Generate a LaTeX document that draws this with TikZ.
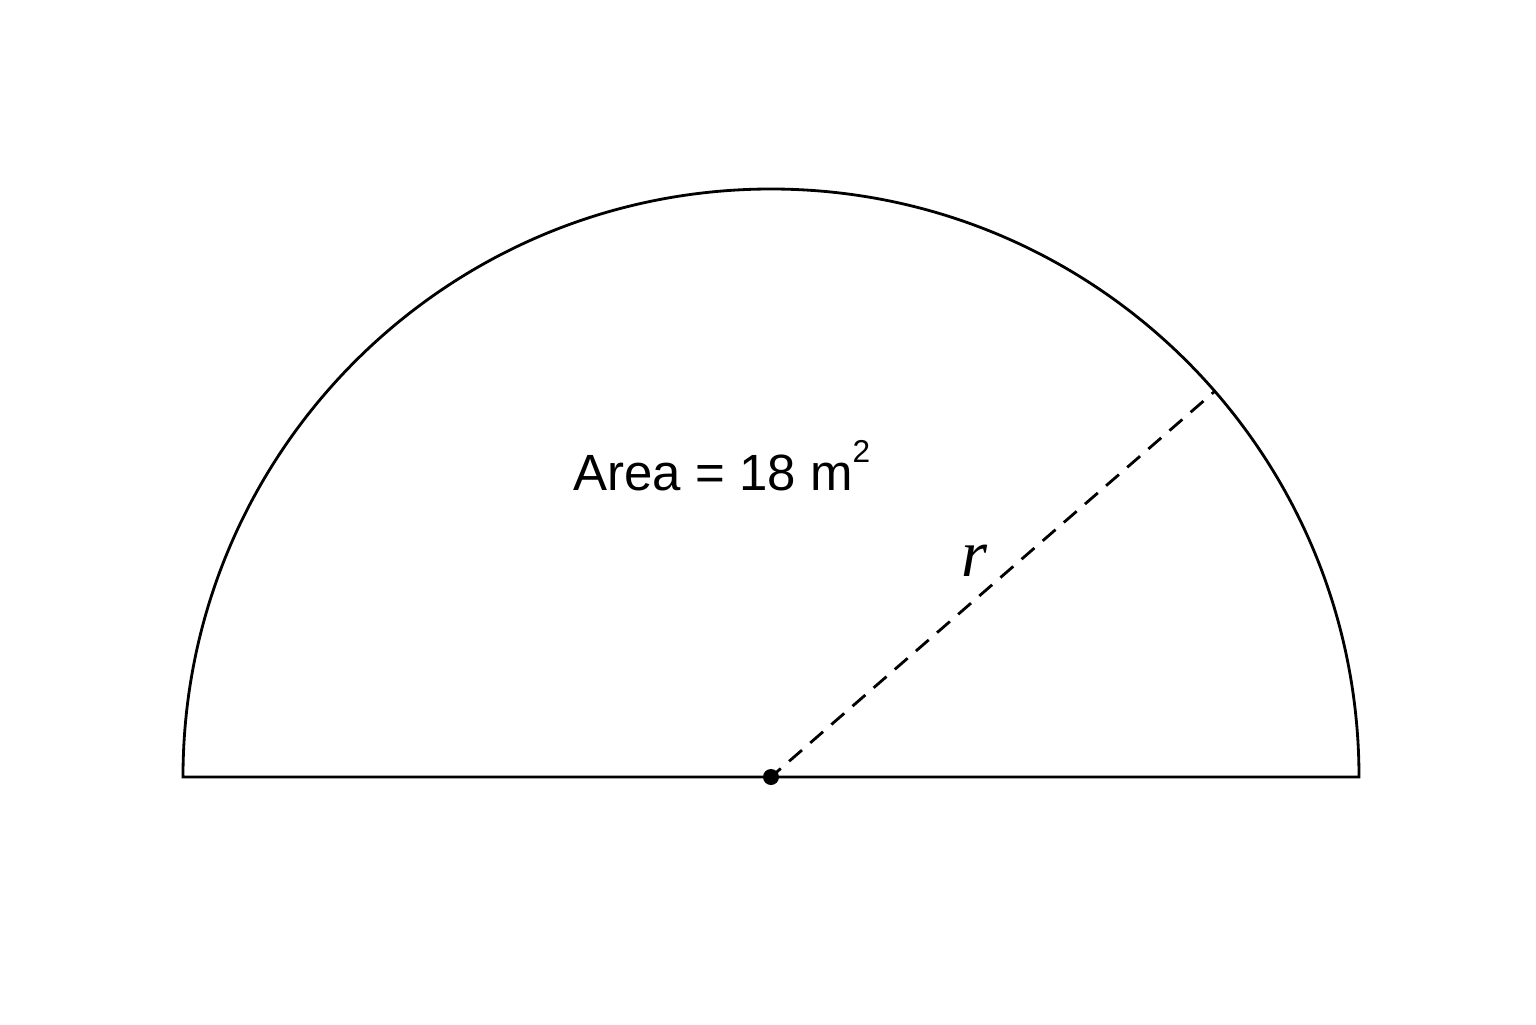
\documentclass[tikz,border=0pt]{standalone}
\usepackage{fontspec}
\setmainfont{Liberation Sans}
\newfontfamily\rfont{Liberation Serif}
\usetikzlibrary{calc}
\usetikzlibrary{positioning}

\begin{document}
\begin{tikzpicture}[line width=0.8pt,
		rad/.style={dash pattern=on 1.7mm off 1.1mm,dash phase=0.4mm},
		lbl/.style={inner sep=0pt,font=\fontsize{14.5}{16}\selectfont}]
		\useasboundingbox (-7.71,-2.47) rectangle (7.65,7.77);
		\coordinate   (centre)  at (0,0);
		\coordinate   (left)    at (-5.88,0);
		\coordinate   (right)   at (5.88,0);
		\coordinate   (rim)     at (41:5.88);
		
		\draw (left) -- (right) arc (0:180:5.88) -- cycle;
		\draw[rad] (centre) -- (rim);
		\fill (centre) circle (0.8mm);
		
		\node[lbl]   (area)  at (-0.49,3.11) {Area = 18 m\raisebox{1.05ex}{\fontsize{9}{9}\selectfont 2}};
		\node[inner sep=0pt,font=\rfont\itshape\fontsize{19}{20}\selectfont] (r) at (2.03,2.16) {r};
\end{tikzpicture}
\end{document}
